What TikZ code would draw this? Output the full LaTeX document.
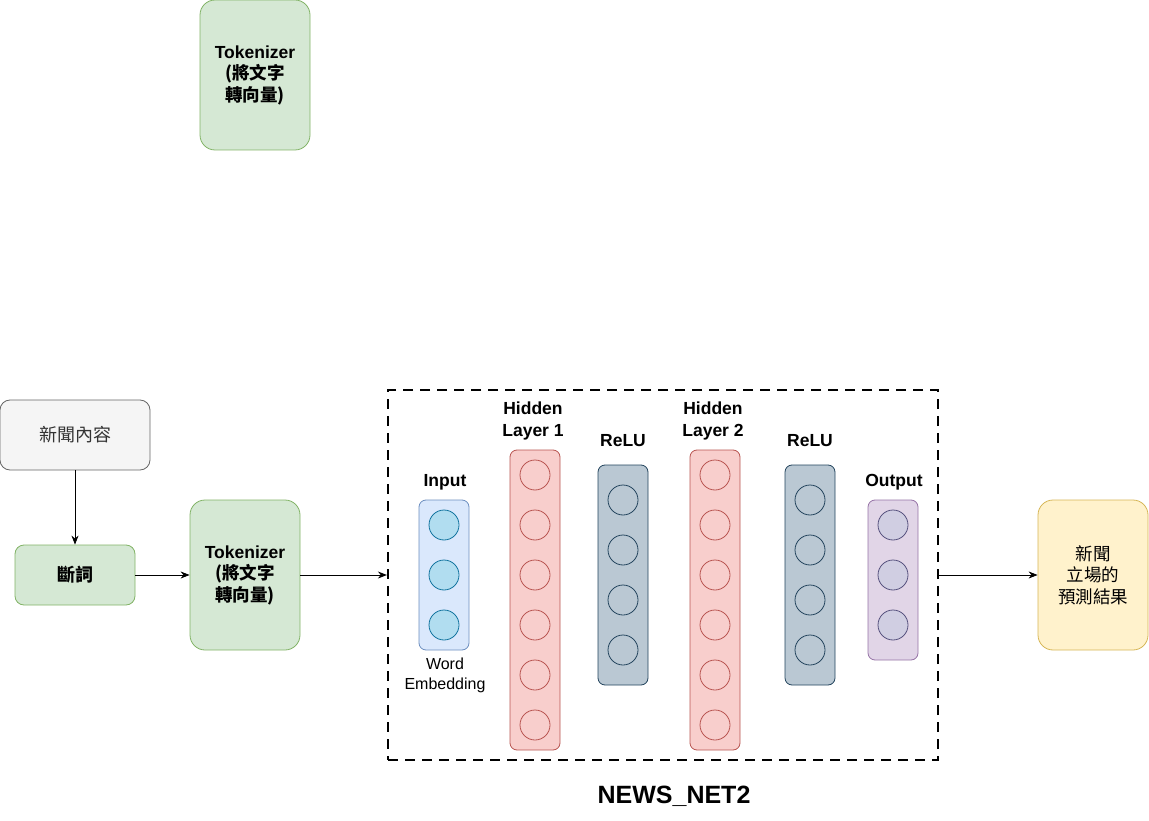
\documentclass[tikz,border=0pt]{standalone}
\usepackage{fontspec}
\setmainfont{Liberation Sans}
\newfontfamily\cjk{Noto Sans CJK TC}
\usetikzlibrary{positioning,arrows.meta}

\definecolor{grfill}{HTML}{D5E8D4}
\definecolor{grline}{HTML}{82B366}
\definecolor{gyfill}{HTML}{F5F5F5}
\definecolor{gyline}{HTML}{666666}
\definecolor{gytext}{HTML}{333333}
\definecolor{ylfill}{HTML}{FFF2CC}
\definecolor{ylline}{HTML}{D6B656}
\definecolor{blfill}{HTML}{DAE8FC}
\definecolor{blline}{HTML}{6C8EBF}
\definecolor{cyfill}{HTML}{B1DDF0}
\definecolor{cyline}{HTML}{10739E}
\definecolor{rdfill}{HTML}{F8CECC}
\definecolor{rdline}{HTML}{B85450}
\definecolor{slfill}{HTML}{BAC8D3}
\definecolor{slline}{HTML}{23445D}
\definecolor{pufill}{HTML}{E1D5E7}
\definecolor{puline}{HTML}{9673A6}
\definecolor{lvfill}{HTML}{D0CEE2}
\definecolor{lvline}{HTML}{56517E}

\tikzset{
  box/.style={draw, rounded corners=15pt, align=center, line width=0.8pt,
    font=\fontsize{17.5}{21.5}\selectfont},
  layer/.style={draw, rounded corners=7pt, line width=0.8pt, minimum width=50pt},
  neuron/.style={draw, circle, minimum size=30pt, inner sep=0pt, line width=0.8pt},
  lbl/.style={align=center, font=\fontsize{17.5}{22}\selectfont\bfseries},
  conn/.style={draw, line width=0.8pt, -{Stealth[length=9pt,width=7pt]}}
}

\begin{document}
\begin{tikzpicture}[x=1pt,y=-1pt]
\useasboundingbox (0,0) rectangle (1149,821);

% upper tokenizer
\node (tokA) [box, fill=grfill, draw=grline, minimum width=110pt, minimum height=150pt] at (255,75)
  {\textbf{Tokenizer}\\{\cjk\bfseries (將文字}\\{\cjk\bfseries 轉向量)}};

% pipeline
\node (news) [box, fill=gyfill, draw=gyline, text=gytext, rounded corners=10pt, minimum width=150pt, minimum height=70pt] at (75,435)
  {\cjk\fontsize{18}{22}\selectfont 新聞內容};
\node (seg) [box, fill=grfill, draw=grline, rounded corners=9pt, minimum width=120pt, minimum height=60pt] at (75,575)
  {\cjk\bfseries\fontsize{18}{22}\selectfont 斷詞};
\node (tokB) [box, fill=grfill, draw=grline, minimum width=110pt, minimum height=150pt] at (245,575)
  {\textbf{Tokenizer}\\{\cjk\bfseries (將文字}\\{\cjk\bfseries 轉向量)}};

% network frame
\node (net) [draw, dashed, line width=2.2pt, dash pattern=on 10pt off 7pt, minimum width=550pt, minimum height=370pt] at (663,575) {};
\node (netname) [font=\fontsize{25}{28}\selectfont\bfseries] at (674,796) {NEWS\_NET2};

\node (result) [box, fill=ylfill, draw=ylline, minimum width=110pt, minimum height=150pt] at (1093,575)
  {\cjk 新聞\\\cjk 立場的\\\cjk 預測結果};

% layers
\node (inp) [layer, fill=blfill, draw=blline, minimum height=150pt] at (444,575) {};
\node (hid1) [layer, fill=rdfill, draw=rdline, minimum height=300pt] at (535,600) {};
\node (relu1) [layer, fill=slfill, draw=slline, minimum height=220pt] at (623,575) {};
\node (hid2) [layer, fill=rdfill, draw=rdline, minimum height=300pt] at (715,600) {};
\node (relu2) [layer, fill=slfill, draw=slline, minimum height=220pt] at (810,575) {};
\node (out) [layer, fill=pufill, draw=puline, minimum height=160pt] at (893,580) {};

\foreach \i in {0,1,2} {
  \node (in\i) [neuron, fill=cyfill, draw=cyline] at (444,525+50*\i) {};
  \node (o\i) [neuron, fill=lvfill, draw=lvline] at (893,525+50*\i) {};
}
\foreach \i in {0,...,5} {
  \node (ha\i) [neuron, fill=rdfill, draw=rdline] at (535,475+50*\i) {};
  \node (hb\i) [neuron, fill=rdfill, draw=rdline] at (715,475+50*\i) {};
}
\foreach \i in {0,...,3} {
  \node (ra\i) [neuron, fill=slfill, draw=slline] at (623,500+50*\i) {};
  \node (rb\i) [neuron, fill=slfill, draw=slline] at (810,500+50*\i) {};
}

% layer labels
\node (inplbl) [lbl] at (445,482) {Input};
\node (hid1lbl) [lbl] at (533,421) {Hidden\\Layer 1};
\node (relu1lbl) [lbl] at (623,441) {ReLU};
\node (hid2lbl) [lbl] at (713,421) {Hidden\\Layer 2};
\node (relu2lbl) [lbl] at (810,441) {ReLU};
\node (outlbl) [lbl] at (894,482) {Output};
\node (emb) [align=center, font=\fontsize{16}{20}\selectfont] at (445,675) {Word\\Embedding};

% connectors
\draw [conn] (news.south) -- (seg.north);
\draw [conn] (seg.east) -- (tokB.west);
\draw [conn] (tokB.east) -- (net.west);
\draw [conn] (net.east) -- (result.west);
\end{tikzpicture}
\end{document}
